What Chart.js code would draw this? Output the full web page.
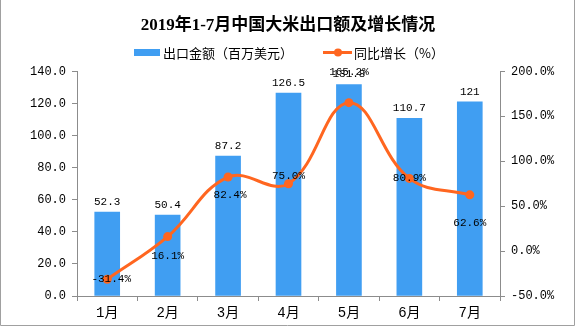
<!DOCTYPE html>
<html>
<head>
<meta charset="utf-8">
<script src="https://cdn.jsdelivr.net/npm/chart.js@4"></script>
<style>
html,body{margin:0;padding:0;background:#fff;}
canvas{display:block;}
</style>
</head>
<body>
<canvas id="c" width="576" height="327"></canvas>
<script>
const titleText = '2019年1-7月中国大米出口额及增长情况';
const categories = ['1月','2月','3月','4月','5月','6月','7月'];
const exportValues = [52.3, 50.4, 87.2, 126.5, 131.8, 110.7, 121];
const growthValues = [-31.4, 16.1, 82.4, 75.0, 165.2, 80.9, 62.6];
const barLabels = ['52.3','50.4','87.2','126.5','131.8','110.7','121'];
const growthLabels = ['-31.4%','16.1%','82.4%','75.0%','165.2%','80.9%','62.6%'];
const seriesNames = ['出口金额（百万美元）','同比增长（%）'];
const leftAxisRange = [0, 140, 20];
const rightAxisRange = [-50, 200, 50];

const BAR_COLOR = '#409ef2';
const LINE_COLOR = '#ff6620';
const AXIS_COLOR = '#8c8c8c';
const NUM_FONT = '"Liberation Mono", "Noto Sans CJK SC", monospace';
const CJK_FONT = '"Noto Sans CJK SC", sans-serif';

// label placement offsets (styling), per point
const lineLabelOffsets = [[4,0],[0,19],[2,18],[0,-8],[0,-31],[0,0],[0,28]];

const extras = {
  id: 'extras',
  afterDraw(chart) {
    const ctx = chart.ctx;
    ctx.save();
    // legend
    ctx.fillStyle = BAR_COLOR;
    ctx.fillRect(134, 49, 26, 7);
    ctx.fillStyle = '#000';
    ctx.font = '13px ' + CJK_FONT;
    ctx.textBaseline = 'middle';
    ctx.textAlign = 'left';
    ctx.fillText(seriesNames[0], 163, 53);
    ctx.strokeStyle = LINE_COLOR;
    ctx.lineWidth = 3;
    ctx.beginPath(); ctx.moveTo(323, 52.5); ctx.lineTo(352, 52.5); ctx.stroke();
    ctx.fillStyle = LINE_COLOR;
    ctx.beginPath(); ctx.arc(338, 52.5, 4, 0, Math.PI*2); ctx.fill();
    ctx.fillStyle = '#000';
    ctx.fillText(seriesNames[1], 354, 53);

    // data labels
    ctx.font = '11px ' + NUM_FONT;
    ctx.textAlign = 'center';
    ctx.textBaseline = 'middle';
    const barMeta = chart.getDatasetMeta(0);
    barMeta.data.forEach((el, i) => {
      ctx.fillText(barLabels[i], el.x, el.y - 10);
    });
    const lineMeta = chart.getDatasetMeta(1);
    lineMeta.data.forEach((el, i) => {
      const o = lineLabelOffsets[i];
      ctx.fillText(growthLabels[i], el.x + o[0], el.y + o[1]);
    });

    // frame
    ctx.strokeStyle = '#a0a0a0';
    ctx.lineWidth = 1;
    ctx.beginPath();
    ctx.moveTo(0.5, 0); ctx.lineTo(0.5, 325.5); ctx.lineTo(574.5, 325.5); ctx.lineTo(574.5, 0);
    ctx.stroke();
    ctx.restore();
  }
};

new Chart(document.getElementById('c'), {
  type: 'bar',
  data: {
    labels: categories,
    datasets: [
      {
        type: 'bar',
        label: seriesNames[0],
        data: exportValues,
        backgroundColor: BAR_COLOR,
        barThickness: 25,
        yAxisID: 'y',
        order: 1
      },
      {
        type: 'line',
        label: seriesNames[1],
        data: growthValues,
        borderColor: LINE_COLOR,
        backgroundColor: LINE_COLOR,
        borderWidth: 3,
        pointRadius: 4.5,
        pointHoverRadius: 4.5,
        pointBackgroundColor: LINE_COLOR,
        pointBorderWidth: 0,
        tension: 0.4,
        yAxisID: 'y1',
        order: 0
      }
    ]
  },
  options: {
    responsive: false,
    animation: false,
    devicePixelRatio: 1,
    layout: { padding: { left: 0, right: 0, top: 0, bottom: 0 } },
    plugins: {
      legend: { display: false },
      tooltip: { enabled: false },
      title: {
        display: true,
        text: titleText,
        color: '#000',
        font: { family: '"Liberation Serif", "Noto Sans CJK SC", serif', size: 17, weight: 'bold' },
        padding: { top: 15, bottom: 36 }
      }
    },
    scales: {
      x: {
        grid: { display: true, drawOnChartArea: false, drawTicks: true, tickLength: 5, color: AXIS_COLOR, offset: true },
        border: { display: true, color: AXIS_COLOR },
        ticks: { color: '#000', font: { family: NUM_FONT, size: 14 }, padding: 4 },
        afterFit(s) { s.height = 31; }
      },
      y: {
        position: 'left',
        min: leftAxisRange[0], max: leftAxisRange[1],
        grid: { drawOnChartArea: false, drawTicks: true, tickLength: 5, color: AXIS_COLOR },
        border: { display: true, color: AXIS_COLOR },
        ticks: { stepSize: leftAxisRange[2], color: '#000', font: { family: NUM_FONT, size: 12 }, padding: 6,
                 callback: v => v.toFixed(1) },
        afterFit(s) { s.width = 77; }
      },
      y1: {
        position: 'right',
        min: rightAxisRange[0], max: rightAxisRange[1],
        grid: { drawOnChartArea: false, drawTicks: true, tickLength: 5, color: AXIS_COLOR },
        border: { display: true, color: AXIS_COLOR },
        ticks: { stepSize: rightAxisRange[2], color: '#000', font: { family: NUM_FONT, size: 12 }, padding: 6,
                 callback: v => v.toFixed(1) + '%' },
        afterFit(s) { s.width = 76; }
      }
    }
  },
  plugins: [extras]
});
</script>
</body>
</html>
